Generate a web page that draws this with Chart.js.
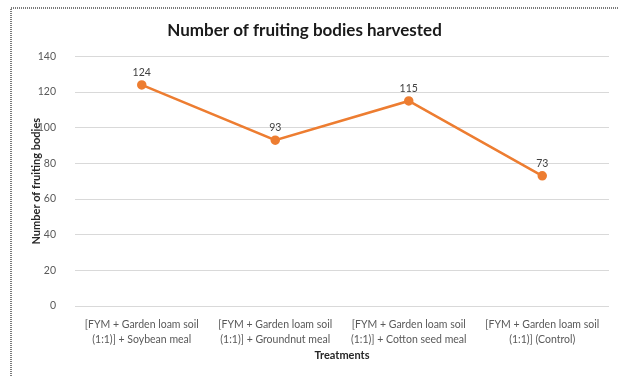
<!DOCTYPE html>
<html>
<head>
<meta charset="utf-8">
<script src="https://cdn.jsdelivr.net/npm/chart.js@4/dist/chart.umd.min.js"></script>
<style>
  html, body { margin: 0; padding: 0; background: #fff; }
  #wrap { width: 618px; height: 376px; position: relative; }
</style>
</head>
<body>
<div id="wrap"><canvas id="grafico" width="618" height="376"></canvas></div>
<script>
// tratamientos y numero de cuerpos fructiferos
const tratamientos = [
  ['[FYM + Garden loam soil', '(1:1)] + Soybean meal'],
  ['[FYM + Garden loam soil', '(1:1)] + Groundnut meal'],
  ['[FYM + Garden loam soil', '(1:1)] + Cotton seed meal'],
  ['[FYM + Garden loam soil', '(1:1)] (Control)']
];
const cuerpos = [124, 93, 115, 73];
const ticksY = [0, 20, 40, 60, 80, 100, 120, 140];

const fuente = 'Lato, "Open Sans", sans-serif';
const naranja = '#ED7D31';

// marco gris punteado de la figura
const marco = {
  id: 'marco',
  beforeDraw(chart) {
    const ctx = chart.ctx;
    ctx.save();
    ctx.strokeStyle = '#7a7a7a';
    ctx.lineWidth = 2;
    ctx.setLineDash([1, 1]);
    ctx.beginPath();
    ctx.moveTo(11, 376);
    ctx.lineTo(11, 8);
    ctx.lineTo(618, 8);
    ctx.stroke();
    ctx.restore();
  }
};

// valores encima de cada punto
const etiquetas = {
  id: 'etiquetas',
  afterDatasetsDraw(chart) {
    const ctx = chart.ctx;
    const meta = chart.getDatasetMeta(0);
    ctx.save();
    ctx.font = '10.5px ' + fuente;
    ctx.fillStyle = '#404040';
    ctx.textAlign = 'center';
    ctx.textBaseline = 'bottom';
    meta.data.forEach((p, i) => {
      ctx.fillText(String(chart.data.datasets[0].data[i]), p.x, p.y - 7);
    });
    ctx.restore();
  }
};

const ctx = document.getElementById('grafico');
const myChart = new Chart(ctx, {
  type: 'line',
  data: {
    labels: tratamientos,
    datasets: [{
      label: 'Number of fruiting bodies',
      data: cuerpos,
      borderColor: naranja,
      backgroundColor: naranja,
      borderWidth: 2.5,
      pointRadius: 3.5,
      pointBackgroundColor: naranja,
      pointBorderColor: naranja,
      tension: 0
    }]
  },
  options: {
    responsive: false,
    animation: false,
    layout: { padding: { top: 0, right: 9, bottom: 14, left: 0 } },
    plugins: {
      legend: { display: false },
      tooltip: { enabled: false },
      title: {
        display: true,
        text: 'Number of fruiting bodies harvested',
        color: '#1a1a1a',
        font: { family: fuente, size: 17, weight: 'bold' },
        padding: { top: 20, bottom: 16 }
      }
    },
    scales: {
      x: {
        offset: true,
        grid: { display: false, drawTicks: false },
        border: { display: false },
        ticks: {
          color: '#595959',
          font: { family: fuente, size: 10.5, lineHeight: 1.45 },
          padding: 11,
          maxRotation: 0,
          autoSkip: false
        },
        title: {
          display: true,
          text: 'Treatments',
          color: '#262626',
          font: { family: fuente, size: 11, weight: 'bold' },
          padding: { top: 4, bottom: 0 }
        },
        afterFit(s) { s.height = 56; }
      },
      y: {
        min: 0,
        max: 140,
        afterBuildTicks(s) { s.ticks = ticksY.map(v => ({ value: v })); },
        grid: { color: '#d9d9d9', drawTicks: false },
        border: { display: false },
        ticks: {
          color: '#595959',
          font: { family: fuente, size: 10.5 },
          padding: 19
        },
        title: {
          display: true,
          text: 'Number of fruiting bodies',
          color: '#262626',
          font: { family: fuente, size: 11, weight: 'bold' },
          padding: { top: 30, bottom: 0 }
        },
        afterFit(s) { s.width = 75; }
      }
    }
  },
  plugins: [marco, etiquetas]
});
</script>
</body>
</html>
